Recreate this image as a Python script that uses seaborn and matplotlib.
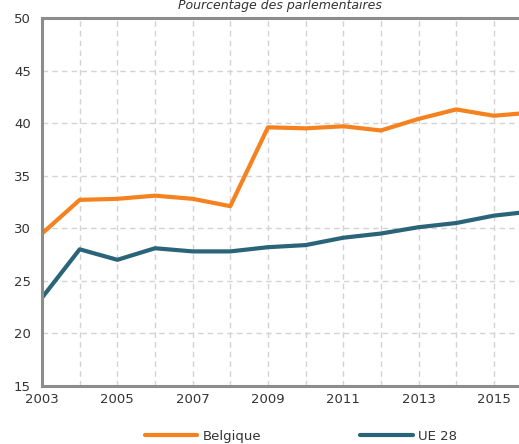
"""Pourcentage des parlementaires : Belgique vs UE 28 (2003-2016)."""
import pandas as pd
import seaborn as sns
import matplotlib.pyplot as plt

sns.set_style("white")
plt.rcParams["font.family"] = ["DejaVu Sans"]

############################## Data.

years = [2003, 2004, 2005, 2006, 2007, 2008, 2009, 2010,
         2011, 2012, 2013, 2014, 2015, 2016]
belgique = [29.5, 32.7, 32.8, 33.1, 32.8, 32.1, 39.6, 39.5,
            39.7, 39.3, 40.4, 41.3, 40.7, 41.0]
ue28 = [23.4, 28.0, 27.0, 28.1, 27.8, 27.8, 28.2, 28.4,
        29.1, 29.5, 30.1, 30.5, 31.2, 31.6]
series_names = ["Belgique", "UE 28"]
title = "Pourcentage des parlementaires"

df = pd.DataFrame({
    "year": years * 2,
    "value": belgique + ue28,
    "pays": [series_names[0]] * len(years) + [series_names[1]] * len(years),
})

############################## Plot.

ORANGE = "#F5821F"
TEAL = "#2A6479"
SPINE = "#8C8C8C"
GRID = "#D3D3D3"
TXT = "#333333"

fig = plt.figure(figsize=(5.19, 4.44), dpi=100)
ax = fig.add_axes([0.081, 0.1306, 0.925, 0.829])

sns.lineplot(data=df, x="year", y="value", hue="pays",
             palette={series_names[0]: ORANGE, series_names[1]: TEAL},
             linewidth=3, ax=ax, legend=False)

ax.set_xlim(2003, 2015.75)
ax.set_ylim(15, 50)
ax.set_xticks(range(2003, 2016))
ax.set_xticklabels([str(y) if (y - 2003) % 2 == 0 else "" for y in range(2003, 2016)])
ax.set_yticks(range(15, 55, 5))
ax.set_xlabel("")
ax.set_ylabel("")

ax.grid(True, which="major", color=GRID, linestyle=(0, (4, 3)), linewidth=1)
ax.set_axisbelow(True)
for side in ["left", "bottom", "top"]:
    ax.spines[side].set_color(SPINE)
    ax.spines[side].set_linewidth(2.2)
ax.spines["right"].set_visible(False)
ax.tick_params(axis="both", which="major", length=4, width=1.5,
               color=SPINE, labelsize=9.5, labelcolor=TXT, pad=1)
ax.tick_params(axis="y", pad=4)

# title just above the plot frame
fig.text(0.54, 1 - 9 / 444, title, fontsize=9, style="italic",
         color=TXT, ha="center", va="baseline")

# legend under the plot
handles = [plt.Line2D([], [], color=ORANGE, lw=3),
           plt.Line2D([], [], color=TEAL, lw=3)]
fig.legend(handles, series_names, loc="center", ncol=2,
           bbox_to_anchor=(0.58, 1 - 436 / 444), frameon=False,
           handlelength=4, handletextpad=0.4, columnspacing=7.5,
           fontsize=9.5, labelcolor=TXT)

plt.savefig("out.png", dpi=100)
plt.close()
